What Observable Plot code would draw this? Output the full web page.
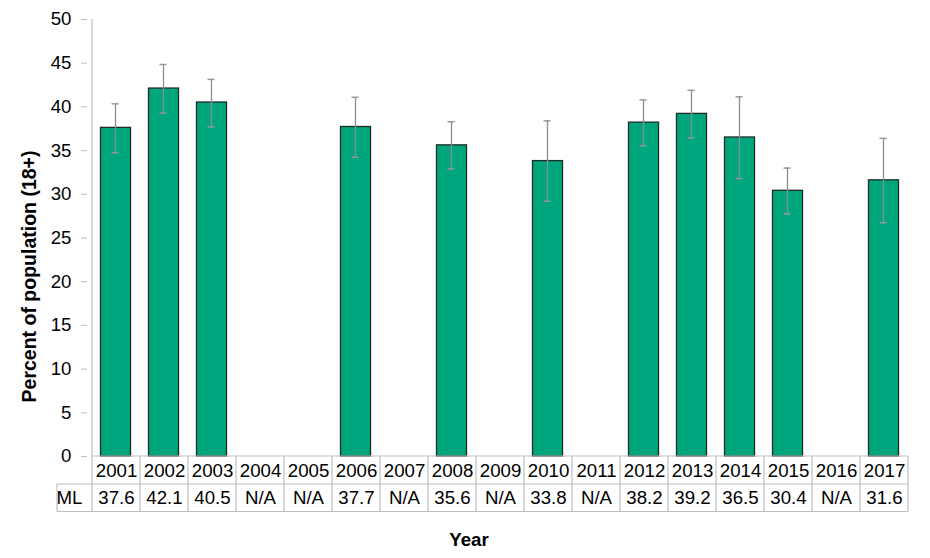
<!DOCTYPE html>
<html>
<head>
<meta charset="utf-8">
<script src="https://cdn.jsdelivr.net/npm/d3@7"></script>
<script src="https://cdn.jsdelivr.net/npm/@observablehq/plot@0.6"></script>
<style>
  html, body { margin: 0; padding: 0; background: #fff; }
  svg { display: block; }
</style>
</head>
<body>
<div id="chart"></div>
<script>
const years = ["2001","2002","2003","2004","2005","2006","2007","2008","2009","2010","2011","2012","2013","2014","2015","2016","2017"];
const values = [37.6, 42.1, 40.5, null, null, 37.7, null, 35.6, null, 33.8, null, 38.2, 39.2, 36.5, 30.4, null, 31.6];
const ciLow  = [34.75, 39.3, 37.7, null, null, 34.25, null, 32.9, null, 29.2, null, 35.55, 36.45, 31.8, 27.75, null, 26.75];
const ciHigh = [40.35, 44.85, 43.15, null, null, 41.1, null, 38.3, null, 38.4, null, 40.8, 41.9, 41.15, 33.0, null, 36.4];
const rowLabel = "ML";
const yTicks = [0, 5, 10, 15, 20, 25, 30, 35, 40, 45, 50];
const yLabel = "Percent of population (18+)";
const xLabel = "Year";

const rows = years.map((year, i) => ({
  year, value: values[i], lo: ciLow[i], hi: ciHigh[i],
  text: values[i] == null ? "N/A" : values[i].toFixed(1)
}));
const bars = rows.filter(d => d.value != null);

const FONT = "'Liberation Sans', Arial, sans-serif";
const GRID = "#bfbfbf";
const FS = 18.67;

// table grid + axis line drawn with the plot's own scales
function tableGrid(index, scales, values, dims) {
  const x = scales.x, y = scales.y;
  const bw = x.bandwidth();
  const y0 = y(0), rowH = 28;
  const yMid = y0 + rowH, yBot = y0 + 2 * rowH - 0.5;
  const left = x(years[0]), right = x(years[years.length - 1]) + bw;
  const labelLeft = left - 35;
  const g = d3.create("svg:g").attr("stroke", GRID).attr("stroke-width", 1.2).attr("fill", "none");
  g.append("line").attr("x1", left).attr("x2", left).attr("y1", y(50)).attr("y2", y0);
  g.append("line").attr("x1", left).attr("x2", right).attr("y1", y0).attr("y2", y0);
  g.append("line").attr("x1", labelLeft).attr("x2", right).attr("y1", yMid).attr("y2", yMid);
  g.append("line").attr("x1", labelLeft).attr("x2", right).attr("y1", yBot).attr("y2", yBot);
  g.append("line").attr("x1", labelLeft).attr("x2", labelLeft).attr("y1", yMid).attr("y2", yBot);
  for (const yr of years) {
    g.append("line").attr("x1", x(yr)).attr("x2", x(yr)).attr("y1", y0).attr("y2", yBot);
  }
  g.append("line").attr("x1", right).attr("x2", right).attr("y1", y0).attr("y2", yBot);
  return g.node();
}

const chart = Plot.plot({
  width: 930,
  height: 558,
  marginLeft: 87,
  marginRight: 18,
  marginTop: 19,
  marginBottom: 102,
  style: { fontFamily: FONT, fontSize: FS + "px", color: "#000", background: "#fff" },
  x: { type: "band", domain: years, padding: 0, axis: null },
  y: { domain: [0, 50], axis: null },
  marks: [
    Plot.barY(bars, {
      x: "year", y: "value",
      fill: "#00a67e", stroke: "#1e2b27", strokeWidth: 1.3,
      insetLeft: 8.5, insetRight: 9.5
    }),
    Plot.ruleX(bars, { x: "year", y1: "lo", y2: "hi", stroke: "#8c8c8c", strokeWidth: 1.3, dx: -1 }),
    Plot.tickY(bars, { x: "year", y: "hi", stroke: "#999", strokeWidth: 1.5, insetLeft: 19.5, insetRight: 21.5 }),
    Plot.tickY(bars, { x: "year", y: "lo", stroke: "#999", strokeWidth: 1.5, insetLeft: 19.5, insetRight: 21.5 }),
    Plot.axisY(yTicks, {
      tickSize: 6, tickPadding: 10, fontSize: FS, stroke: GRID, fill: "#000",
      label: null, tickFormat: d => String(d)
    }),
    tableGrid,
    Plot.text(rows, { x: "year", y: () => 0, text: "year", dy: 14.5, fontSize: FS, fill: "#000", lineAnchor: "middle" }),
    Plot.text(rows, { x: "year", y: () => 0, text: "text", dy: 42, fontSize: FS, fill: "#000", lineAnchor: "middle" }),
    Plot.text([rowLabel], { frameAnchor: "bottom-left", textAnchor: "middle", dx: -18, dy: 42, fontSize: FS, fill: "#000", lineAnchor: "middle" }),
    Plot.text([yLabel], { frameAnchor: "left", textAnchor: "middle", rotate: -90, dx: -58, dy: 38.5, fontSize: 19.5, fontWeight: "bold", fill: "#000", lineAnchor: "middle" }),
    Plot.text([xLabel], { frameAnchor: "bottom", dx: -31, dy: 84, fontSize: FS, fontWeight: "bold", fill: "#000", lineAnchor: "middle" })
  ]
});
document.getElementById("chart").append(chart);
</script>
</body>
</html>
